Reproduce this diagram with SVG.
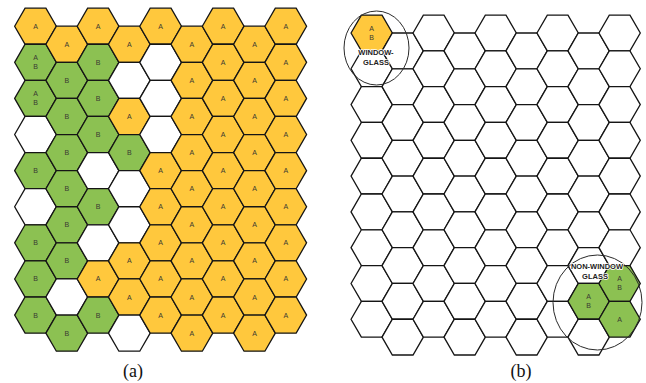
<svg xmlns="http://www.w3.org/2000/svg" xmlns:xlink="http://www.w3.org/1999/xlink" width="646" height="383" viewBox="0 0 646 383">
<style>
.o{fill:#FFC83D}.g{fill:#8CC152}.w{fill:#FFFFFF}
.h{stroke:#151515;stroke-width:1.3;stroke-linejoin:miter}
.t{font-family:"Liberation Sans",Arial,sans-serif;font-size:7px;fill:#3a3a32;text-anchor:middle}
.lbl{font-family:"Liberation Sans",Arial,sans-serif;font-size:7.5px;font-weight:bold;fill:#222;text-anchor:middle;stroke:#fff;stroke-width:1.6;paint-order:stroke;stroke-linejoin:round}
.cap{font-family:"Liberation Serif","Times New Roman",serif;font-size:18px;fill:#111;text-anchor:middle}
.ring{fill:none;stroke:#2a2a2a;stroke-width:1}
</style>
<defs>
<path id="hL" class="h" d="M-20.85,0 L-10.43,-18.06 L10.43,-18.06 L20.85,0 L10.43,18.06 L-10.43,18.06 Z"/>
<path id="hR" class="h" d="M-20.66,0 L-10.33,-17.89 L10.33,-17.89 L20.66,0 L10.33,17.89 L-10.33,17.89 Z"/>
</defs>
<g id="grid-a">
<g id="a-c0r0" transform="translate(35.5,26.2)"><use href="#hL" class="o"/><text class="t" y="2.5">A</text></g>
<g id="a-c0r1" transform="translate(35.5,62.31)"><use href="#hL" class="g"/><text class="t" y="-2.2">A</text><text class="t" y="6.8">B</text></g>
<g id="a-c0r2" transform="translate(35.5,98.42)"><use href="#hL" class="g"/><text class="t" y="-2.2">A</text><text class="t" y="6.8">B</text></g>
<g id="a-c0r3" transform="translate(35.5,134.53)"><use href="#hL" class="w"/></g>
<g id="a-c0r4" transform="translate(35.5,170.64)"><use href="#hL" class="g"/><text class="t" y="2.5">B</text></g>
<g id="a-c0r5" transform="translate(35.5,206.75)"><use href="#hL" class="w"/></g>
<g id="a-c0r6" transform="translate(35.5,242.86)"><use href="#hL" class="g"/><text class="t" y="2.5">B</text></g>
<g id="a-c0r7" transform="translate(35.5,278.97)"><use href="#hL" class="g"/><text class="t" y="2.5">B</text></g>
<g id="a-c0r8" transform="translate(35.5,315.08)"><use href="#hL" class="g"/><text class="t" y="2.5">B</text></g>

<g id="a-c1r0" transform="translate(66.78,44.26)"><use href="#hL" class="o"/><text class="t" y="2.5">A</text></g>
<g id="a-c1r1" transform="translate(66.78,80.37)"><use href="#hL" class="g"/><text class="t" y="2.5">B</text></g>
<g id="a-c1r2" transform="translate(66.78,116.48)"><use href="#hL" class="g"/><text class="t" y="2.5">B</text></g>
<g id="a-c1r3" transform="translate(66.78,152.59)"><use href="#hL" class="g"/><text class="t" y="2.5">B</text></g>
<g id="a-c1r4" transform="translate(66.78,188.7)"><use href="#hL" class="g"/><text class="t" y="2.5">B</text></g>
<g id="a-c1r5" transform="translate(66.78,224.81)"><use href="#hL" class="g"/><text class="t" y="2.5">B</text></g>
<g id="a-c1r6" transform="translate(66.78,260.92)"><use href="#hL" class="g"/><text class="t" y="2.5">B</text></g>
<g id="a-c1r7" transform="translate(66.78,297.03)"><use href="#hL" class="w"/></g>
<g id="a-c1r8" transform="translate(66.78,333.14)"><use href="#hL" class="g"/><text class="t" y="2.5">B</text></g>

<g id="a-c2r0" transform="translate(98.06,26.2)"><use href="#hL" class="o"/><text class="t" y="2.5">A</text></g>
<g id="a-c2r1" transform="translate(98.06,62.31)"><use href="#hL" class="g"/><text class="t" y="2.5">B</text></g>
<g id="a-c2r2" transform="translate(98.06,98.42)"><use href="#hL" class="g"/><text class="t" y="2.5">B</text></g>
<g id="a-c2r3" transform="translate(98.06,134.53)"><use href="#hL" class="g"/><text class="t" y="2.5">B</text></g>
<g id="a-c2r4" transform="translate(98.06,170.64)"><use href="#hL" class="w"/></g>
<g id="a-c2r5" transform="translate(98.06,206.75)"><use href="#hL" class="g"/><text class="t" y="2.5">B</text></g>
<g id="a-c2r6" transform="translate(98.06,242.86)"><use href="#hL" class="w"/></g>
<g id="a-c2r7" transform="translate(98.06,278.97)"><use href="#hL" class="o"/><text class="t" y="2.5">A</text></g>
<g id="a-c2r8" transform="translate(98.06,315.08)"><use href="#hL" class="g"/><text class="t" y="2.5">B</text></g>

<g id="a-c3r0" transform="translate(129.34,44.26)"><use href="#hL" class="o"/><text class="t" y="2.5">A</text></g>
<g id="a-c3r1" transform="translate(129.34,80.37)"><use href="#hL" class="w"/></g>
<g id="a-c3r2" transform="translate(129.34,116.48)"><use href="#hL" class="o"/><text class="t" y="2.5">A</text></g>
<g id="a-c3r3" transform="translate(129.34,152.59)"><use href="#hL" class="g"/><text class="t" y="2.5">B</text></g>
<g id="a-c3r4" transform="translate(129.34,188.7)"><use href="#hL" class="w"/></g>
<g id="a-c3r5" transform="translate(129.34,224.81)"><use href="#hL" class="w"/></g>
<g id="a-c3r6" transform="translate(129.34,260.92)"><use href="#hL" class="o"/><text class="t" y="2.5">A</text></g>
<g id="a-c3r7" transform="translate(129.34,297.03)"><use href="#hL" class="o"/><text class="t" y="2.5">A</text></g>
<g id="a-c3r8" transform="translate(129.34,333.14)"><use href="#hL" class="w"/></g>

<g id="a-c4r0" transform="translate(160.62,26.2)"><use href="#hL" class="o"/><text class="t" y="2.5">A</text></g>
<g id="a-c4r1" transform="translate(160.62,62.31)"><use href="#hL" class="w"/></g>
<g id="a-c4r2" transform="translate(160.62,98.42)"><use href="#hL" class="w"/></g>
<g id="a-c4r3" transform="translate(160.62,134.53)"><use href="#hL" class="w"/></g>
<g id="a-c4r4" transform="translate(160.62,170.64)"><use href="#hL" class="o"/><text class="t" y="2.5">A</text></g>
<g id="a-c4r5" transform="translate(160.62,206.75)"><use href="#hL" class="o"/><text class="t" y="2.5">A</text></g>
<g id="a-c4r6" transform="translate(160.62,242.86)"><use href="#hL" class="o"/><text class="t" y="2.5">A</text></g>
<g id="a-c4r7" transform="translate(160.62,278.97)"><use href="#hL" class="o"/><text class="t" y="2.5">A</text></g>
<g id="a-c4r8" transform="translate(160.62,315.08)"><use href="#hL" class="o"/><text class="t" y="2.5">A</text></g>

<g id="a-c5r0" transform="translate(191.9,44.26)"><use href="#hL" class="o"/><text class="t" y="2.5">A</text></g>
<g id="a-c5r1" transform="translate(191.9,80.37)"><use href="#hL" class="o"/><text class="t" y="2.5">A</text></g>
<g id="a-c5r2" transform="translate(191.9,116.48)"><use href="#hL" class="o"/><text class="t" y="2.5">A</text></g>
<g id="a-c5r3" transform="translate(191.9,152.59)"><use href="#hL" class="o"/><text class="t" y="2.5">A</text></g>
<g id="a-c5r4" transform="translate(191.9,188.7)"><use href="#hL" class="o"/><text class="t" y="2.5">A</text></g>
<g id="a-c5r5" transform="translate(191.9,224.81)"><use href="#hL" class="o"/><text class="t" y="2.5">A</text></g>
<g id="a-c5r6" transform="translate(191.9,260.92)"><use href="#hL" class="o"/><text class="t" y="2.5">A</text></g>
<g id="a-c5r7" transform="translate(191.9,297.03)"><use href="#hL" class="o"/><text class="t" y="2.5">A</text></g>
<g id="a-c5r8" transform="translate(191.9,333.14)"><use href="#hL" class="o"/><text class="t" y="2.5">A</text></g>

<g id="a-c6r0" transform="translate(223.18,26.2)"><use href="#hL" class="o"/><text class="t" y="2.5">A</text></g>
<g id="a-c6r1" transform="translate(223.18,62.31)"><use href="#hL" class="o"/><text class="t" y="2.5">A</text></g>
<g id="a-c6r2" transform="translate(223.18,98.42)"><use href="#hL" class="o"/><text class="t" y="2.5">A</text></g>
<g id="a-c6r3" transform="translate(223.18,134.53)"><use href="#hL" class="o"/><text class="t" y="2.5">A</text></g>
<g id="a-c6r4" transform="translate(223.18,170.64)"><use href="#hL" class="o"/><text class="t" y="2.5">A</text></g>
<g id="a-c6r5" transform="translate(223.18,206.75)"><use href="#hL" class="o"/><text class="t" y="2.5">A</text></g>
<g id="a-c6r6" transform="translate(223.18,242.86)"><use href="#hL" class="o"/><text class="t" y="2.5">A</text></g>
<g id="a-c6r7" transform="translate(223.18,278.97)"><use href="#hL" class="o"/><text class="t" y="2.5">A</text></g>
<g id="a-c6r8" transform="translate(223.18,315.08)"><use href="#hL" class="o"/><text class="t" y="2.5">A</text></g>

<g id="a-c7r0" transform="translate(254.46,44.26)"><use href="#hL" class="o"/><text class="t" y="2.5">A</text></g>
<g id="a-c7r1" transform="translate(254.46,80.37)"><use href="#hL" class="o"/><text class="t" y="2.5">A</text></g>
<g id="a-c7r2" transform="translate(254.46,116.48)"><use href="#hL" class="o"/><text class="t" y="2.5">A</text></g>
<g id="a-c7r3" transform="translate(254.46,152.59)"><use href="#hL" class="o"/><text class="t" y="2.5">A</text></g>
<g id="a-c7r4" transform="translate(254.46,188.7)"><use href="#hL" class="o"/><text class="t" y="2.5">A</text></g>
<g id="a-c7r5" transform="translate(254.46,224.81)"><use href="#hL" class="o"/><text class="t" y="2.5">A</text></g>
<g id="a-c7r6" transform="translate(254.46,260.92)"><use href="#hL" class="o"/><text class="t" y="2.5">A</text></g>
<g id="a-c7r7" transform="translate(254.46,297.03)"><use href="#hL" class="o"/><text class="t" y="2.5">A</text></g>
<g id="a-c7r8" transform="translate(254.46,333.14)"><use href="#hL" class="o"/><text class="t" y="2.5">A</text></g>

<g id="a-c8r0" transform="translate(285.74,26.2)"><use href="#hL" class="o"/><text class="t" y="2.5">A</text></g>
<g id="a-c8r1" transform="translate(285.74,62.31)"><use href="#hL" class="o"/><text class="t" y="2.5">A</text></g>
<g id="a-c8r2" transform="translate(285.74,98.42)"><use href="#hL" class="o"/><text class="t" y="2.5">A</text></g>
<g id="a-c8r3" transform="translate(285.74,134.53)"><use href="#hL" class="o"/><text class="t" y="2.5">A</text></g>
<g id="a-c8r4" transform="translate(285.74,170.64)"><use href="#hL" class="o"/><text class="t" y="2.5">A</text></g>
<g id="a-c8r5" transform="translate(285.74,206.75)"><use href="#hL" class="o"/><text class="t" y="2.5">A</text></g>
<g id="a-c8r6" transform="translate(285.74,242.86)"><use href="#hL" class="o"/><text class="t" y="2.5">A</text></g>
<g id="a-c8r7" transform="translate(285.74,278.97)"><use href="#hL" class="o"/><text class="t" y="2.5">A</text></g>
<g id="a-c8r8" transform="translate(285.74,315.08)"><use href="#hL" class="o"/><text class="t" y="2.5">A</text></g>
</g>

<g id="grid-b">
<g id="b-c0r0" transform="translate(371.7,33)"><use href="#hR" class="o"/><text class="t" y="-2.2">A</text><text class="t" y="6.8">B</text></g>
<g id="b-c0r1" transform="translate(371.7,68.78)"><use href="#hR" class="w"/></g>
<g id="b-c0r2" transform="translate(371.7,104.56)"><use href="#hR" class="w"/></g>
<g id="b-c0r3" transform="translate(371.7,140.34)"><use href="#hR" class="w"/></g>
<g id="b-c0r4" transform="translate(371.7,176.12)"><use href="#hR" class="w"/></g>
<g id="b-c0r5" transform="translate(371.7,211.9)"><use href="#hR" class="w"/></g>
<g id="b-c0r6" transform="translate(371.7,247.68)"><use href="#hR" class="w"/></g>
<g id="b-c0r7" transform="translate(371.7,283.46)"><use href="#hR" class="w"/></g>
<g id="b-c0r8" transform="translate(371.7,319.24)"><use href="#hR" class="w"/></g>

<g id="b-c1r0" transform="translate(402.69,50.89)"><use href="#hR" class="w"/></g>
<g id="b-c1r1" transform="translate(402.69,86.67)"><use href="#hR" class="w"/></g>
<g id="b-c1r2" transform="translate(402.69,122.45)"><use href="#hR" class="w"/></g>
<g id="b-c1r3" transform="translate(402.69,158.23)"><use href="#hR" class="w"/></g>
<g id="b-c1r4" transform="translate(402.69,194.01)"><use href="#hR" class="w"/></g>
<g id="b-c1r5" transform="translate(402.69,229.79)"><use href="#hR" class="w"/></g>
<g id="b-c1r6" transform="translate(402.69,265.57)"><use href="#hR" class="w"/></g>
<g id="b-c1r7" transform="translate(402.69,301.35)"><use href="#hR" class="w"/></g>
<g id="b-c1r8" transform="translate(402.69,337.13)"><use href="#hR" class="w"/></g>

<g id="b-c2r0" transform="translate(433.68,33)"><use href="#hR" class="w"/></g>
<g id="b-c2r1" transform="translate(433.68,68.78)"><use href="#hR" class="w"/></g>
<g id="b-c2r2" transform="translate(433.68,104.56)"><use href="#hR" class="w"/></g>
<g id="b-c2r3" transform="translate(433.68,140.34)"><use href="#hR" class="w"/></g>
<g id="b-c2r4" transform="translate(433.68,176.12)"><use href="#hR" class="w"/></g>
<g id="b-c2r5" transform="translate(433.68,211.9)"><use href="#hR" class="w"/></g>
<g id="b-c2r6" transform="translate(433.68,247.68)"><use href="#hR" class="w"/></g>
<g id="b-c2r7" transform="translate(433.68,283.46)"><use href="#hR" class="w"/></g>
<g id="b-c2r8" transform="translate(433.68,319.24)"><use href="#hR" class="w"/></g>

<g id="b-c3r0" transform="translate(464.67,50.89)"><use href="#hR" class="w"/></g>
<g id="b-c3r1" transform="translate(464.67,86.67)"><use href="#hR" class="w"/></g>
<g id="b-c3r2" transform="translate(464.67,122.45)"><use href="#hR" class="w"/></g>
<g id="b-c3r3" transform="translate(464.67,158.23)"><use href="#hR" class="w"/></g>
<g id="b-c3r4" transform="translate(464.67,194.01)"><use href="#hR" class="w"/></g>
<g id="b-c3r5" transform="translate(464.67,229.79)"><use href="#hR" class="w"/></g>
<g id="b-c3r6" transform="translate(464.67,265.57)"><use href="#hR" class="w"/></g>
<g id="b-c3r7" transform="translate(464.67,301.35)"><use href="#hR" class="w"/></g>
<g id="b-c3r8" transform="translate(464.67,337.13)"><use href="#hR" class="w"/></g>

<g id="b-c4r0" transform="translate(495.66,33)"><use href="#hR" class="w"/></g>
<g id="b-c4r1" transform="translate(495.66,68.78)"><use href="#hR" class="w"/></g>
<g id="b-c4r2" transform="translate(495.66,104.56)"><use href="#hR" class="w"/></g>
<g id="b-c4r3" transform="translate(495.66,140.34)"><use href="#hR" class="w"/></g>
<g id="b-c4r4" transform="translate(495.66,176.12)"><use href="#hR" class="w"/></g>
<g id="b-c4r5" transform="translate(495.66,211.9)"><use href="#hR" class="w"/></g>
<g id="b-c4r6" transform="translate(495.66,247.68)"><use href="#hR" class="w"/></g>
<g id="b-c4r7" transform="translate(495.66,283.46)"><use href="#hR" class="w"/></g>
<g id="b-c4r8" transform="translate(495.66,319.24)"><use href="#hR" class="w"/></g>

<g id="b-c5r0" transform="translate(526.65,50.89)"><use href="#hR" class="w"/></g>
<g id="b-c5r1" transform="translate(526.65,86.67)"><use href="#hR" class="w"/></g>
<g id="b-c5r2" transform="translate(526.65,122.45)"><use href="#hR" class="w"/></g>
<g id="b-c5r3" transform="translate(526.65,158.23)"><use href="#hR" class="w"/></g>
<g id="b-c5r4" transform="translate(526.65,194.01)"><use href="#hR" class="w"/></g>
<g id="b-c5r5" transform="translate(526.65,229.79)"><use href="#hR" class="w"/></g>
<g id="b-c5r6" transform="translate(526.65,265.57)"><use href="#hR" class="w"/></g>
<g id="b-c5r7" transform="translate(526.65,301.35)"><use href="#hR" class="w"/></g>
<g id="b-c5r8" transform="translate(526.65,337.13)"><use href="#hR" class="w"/></g>

<g id="b-c6r0" transform="translate(557.64,33)"><use href="#hR" class="w"/></g>
<g id="b-c6r1" transform="translate(557.64,68.78)"><use href="#hR" class="w"/></g>
<g id="b-c6r2" transform="translate(557.64,104.56)"><use href="#hR" class="w"/></g>
<g id="b-c6r3" transform="translate(557.64,140.34)"><use href="#hR" class="w"/></g>
<g id="b-c6r4" transform="translate(557.64,176.12)"><use href="#hR" class="w"/></g>
<g id="b-c6r5" transform="translate(557.64,211.9)"><use href="#hR" class="w"/></g>
<g id="b-c6r6" transform="translate(557.64,247.68)"><use href="#hR" class="w"/></g>
<g id="b-c6r7" transform="translate(557.64,283.46)"><use href="#hR" class="w"/></g>
<g id="b-c6r8" transform="translate(557.64,319.24)"><use href="#hR" class="w"/></g>

<g id="b-c7r0" transform="translate(588.63,50.89)"><use href="#hR" class="w"/></g>
<g id="b-c7r1" transform="translate(588.63,86.67)"><use href="#hR" class="w"/></g>
<g id="b-c7r2" transform="translate(588.63,122.45)"><use href="#hR" class="w"/></g>
<g id="b-c7r3" transform="translate(588.63,158.23)"><use href="#hR" class="w"/></g>
<g id="b-c7r4" transform="translate(588.63,194.01)"><use href="#hR" class="w"/></g>
<g id="b-c7r5" transform="translate(588.63,229.79)"><use href="#hR" class="w"/></g>
<g id="b-c7r6" transform="translate(588.63,265.57)"><use href="#hR" class="w"/></g>
<g id="b-c7r7" transform="translate(588.63,301.35)"><use href="#hR" class="g"/><text class="t" y="-2.2">A</text><text class="t" y="6.8">B</text></g>
<g id="b-c7r8" transform="translate(588.63,337.13)"><use href="#hR" class="w"/></g>

<g id="b-c8r0" transform="translate(619.62,33)"><use href="#hR" class="w"/></g>
<g id="b-c8r1" transform="translate(619.62,68.78)"><use href="#hR" class="w"/></g>
<g id="b-c8r2" transform="translate(619.62,104.56)"><use href="#hR" class="w"/></g>
<g id="b-c8r3" transform="translate(619.62,140.34)"><use href="#hR" class="w"/></g>
<g id="b-c8r4" transform="translate(619.62,176.12)"><use href="#hR" class="w"/></g>
<g id="b-c8r5" transform="translate(619.62,211.9)"><use href="#hR" class="w"/></g>
<g id="b-c8r6" transform="translate(619.62,247.68)"><use href="#hR" class="w"/></g>
<g id="b-c8r7" transform="translate(619.62,283.46)"><use href="#hR" class="g"/><text class="t" y="-2.2">A</text><text class="t" y="6.8">B</text></g>
<g id="b-c8r8" transform="translate(619.62,319.24)"><use href="#hR" class="g"/><text class="t" y="2.5">A</text></g>
</g>

<g id="callout-window">
<ellipse class="ring" cx="376.5" cy="48" rx="32.5" ry="37"/>
<text class="lbl" x="376" y="55">WINDOW-</text>
<text class="lbl" x="376" y="64.5">GLASS</text>
</g>
<g id="callout-nonwindow">
<ellipse class="ring" cx="597.5" cy="302.5" rx="44.5" ry="47.5"/>
<text class="lbl" x="597" y="269.4">NON-WINDOW</text>
<text class="lbl" x="595" y="278.8">GLASS</text>
</g>

<text class="cap" x="133" y="376.5">(a)</text>
<text class="cap" x="521" y="376.5">(b)</text>
</svg>
